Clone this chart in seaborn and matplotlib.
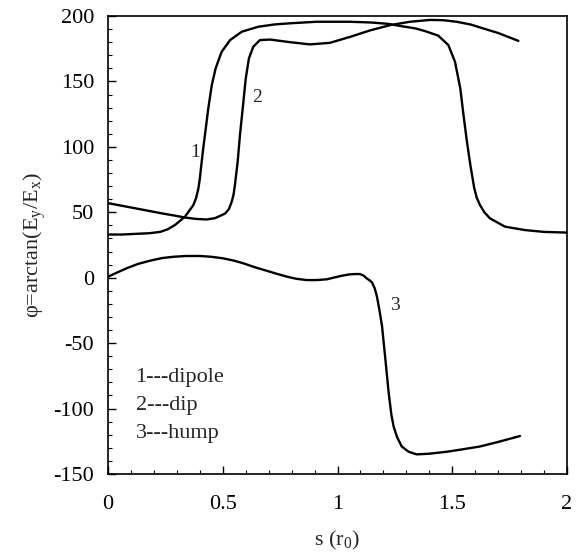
import numpy as np
import pandas as pd
import matplotlib
matplotlib.use("Agg")
import matplotlib.pyplot as plt
from matplotlib.ticker import MultipleLocator
import seaborn as sns

# Polarization angle along the path for three source models
s_dipole = [0.0, 0.06, 0.12, 0.18, 0.227, 0.26, 0.292, 0.335, 0.372, 0.384, 0.394,
            0.40, 0.405, 0.415, 0.426, 0.437, 0.452, 0.469, 0.495, 0.532, 0.583,
            0.655, 0.728, 0.80, 0.909, 1.054, 1.15, 1.22, 1.287, 1.34, 1.381,
            1.439, 1.483, 1.512, 1.535, 1.549, 1.564, 1.579, 1.596, 1.607, 1.621,
            1.64, 1.664, 1.73, 1.817, 1.9, 2.0]
phi_dipole = [33, 33, 33.5, 34, 35, 37, 40.3, 46.6, 55.5, 61, 68.3,
              75.5, 83.6, 98.9, 114, 129.4, 147, 160, 172.6, 181.6, 188,
              191.8, 193.6, 194.5, 195.6, 195.6, 195, 194, 192, 190.5, 188.5,
              185, 177.8, 165, 144.7, 124.3, 104, 86, 68.3, 61, 55.5,
              50, 45.4, 39, 36.4, 35, 34.5]

s_dip = [0.0, 0.06, 0.12, 0.18, 0.24, 0.29, 0.335, 0.38, 0.43, 0.466, 0.51,
         0.527, 0.539, 0.547, 0.553, 0.565, 0.575, 0.587, 0.60, 0.614, 0.633,
         0.662, 0.706, 0.793, 0.88, 0.967, 1.054, 1.142, 1.229, 1.316, 1.403,
         1.46, 1.519, 1.58, 1.635, 1.70, 1.788]
phi_dip = [57, 55, 53, 51, 49, 47.5, 46, 45, 44.5, 45.5, 49,
           52.5, 58, 63.5, 70.8, 88.6, 109, 129.4, 152, 167.6, 176.5,
           181.6, 182, 180, 178.3, 179.5, 184, 189, 193, 195.6, 197,
           196.8, 195.6, 193.5, 190.5, 187, 181]

s_hump = [0.0, 0.04, 0.081, 0.13, 0.183, 0.235, 0.285, 0.34, 0.40, 0.45, 0.502,
          0.55, 0.59, 0.64, 0.692, 0.735, 0.78, 0.82, 0.866, 0.91, 0.954,
          1.013, 1.05, 1.076, 1.098, 1.115, 1.127, 1.14, 1.15, 1.162, 1.172,
          1.183, 1.194, 1.209, 1.223, 1.235, 1.245, 1.26, 1.28, 1.31, 1.345,
          1.40, 1.476, 1.55, 1.62, 1.70, 1.795]
phi_hump = [0.8, 4, 7.2, 10.5, 13, 15, 16, 16.6, 16.6, 16, 14.8,
            13, 11, 8, 5.3, 3, 0.8, -0.8, -1.8, -1.8, -1.2,
            1.3, 2.5, 2.8, 2.8, 1.5, -0.5, -2, -3.5, -8, -14.5,
            -25, -37, -63, -88, -105, -114, -122, -129, -133, -135,
            -134.5, -133, -131, -129, -125.5, -121]

curve_ids = ["1", "2", "3"]
curve_names = ["dipole", "dip", "hump"]
x_ticks = [0, 0.5, 1, 1.5, 2]
x_tick_labels = ["0", "0.5", "1", "1.5", "2"]
y_ticks = [-150, -100, -50, 0, 50, 100, 150, 200]

frames = []
for cid, xs, ys in zip(curve_ids, [s_dipole, s_dip, s_hump],
                       [phi_dipole, phi_dip, phi_hump]):
    frames.append(pd.DataFrame({"s": xs, "phi": ys, "curve": cid}))
df = pd.concat(frames, ignore_index=True)

sns.set_style("ticks")
plt.rcParams["font.family"] = ["Liberation Serif", "DejaVu Serif"]
plt.rcParams["mathtext.fontset"] = "custom"
plt.rcParams["mathtext.rm"] = "Liberation Serif"
plt.rcParams["mathtext.it"] = "Liberation Serif:italic"
plt.rcParams["axes.unicode_minus"] = False

fig = plt.figure(figsize=(5.77, 5.59), dpi=100)
ax = fig.add_axes([108 / 577, 1 - 474 / 559, (567 - 108) / 577, (474 - 16) / 559])

for cid in curve_ids:
    sub = df[df["curve"] == cid]
    sns.lineplot(data=sub, x="s", y="phi", sort=False, estimator=None,
                 color="black", linewidth=1.7, ax=ax, legend=False)

ax.set_xlim(0, 2)
ax.set_ylim(-150, 200)
ax.set_xticks(x_ticks)
ax.set_xticklabels(x_tick_labels)
ax.set_yticks(y_ticks)
ax.xaxis.set_minor_locator(MultipleLocator(0.1))
ax.yaxis.set_minor_locator(MultipleLocator(10))
ax.tick_params(which="both", direction="in", top=False, right=False,
               labelsize=16, colors="black")
ax.tick_params(axis="x", which="major", length=6, width=1.0, pad=15)
ax.tick_params(axis="y", which="major", length=6, width=1.0, pad=10)
ax.tick_params(which="minor", length=3, width=0.8)
for sp in ax.spines.values():
    sp.set_linewidth(1.2)
    sp.set_color("black")

ax.set_xlabel(r"s (r$_\mathrm{0}$)", fontsize=16, labelpad=11)
ax.set_ylabel(r"φ=arctan(E$_\mathrm{y}$/E$_\mathrm{x}$)", fontsize=16, labelpad=4)

# curve labels
ax.text(0.38, 96, "1", fontsize=14, ha="center", va="center")
ax.text(0.648, 138, "2", fontsize=14, ha="center", va="center")
ax.text(1.25, -21, "3", fontsize=14, ha="center", va="center")

# key for the three curves
for i, (cid, name) in enumerate(zip(curve_ids, curve_names)):
    ax.text(0.12, -76 - 21.5 * i, f"{cid}---{name}", fontsize=16,
            ha="left", va="center")

fig.savefig("out.png", dpi=100)
